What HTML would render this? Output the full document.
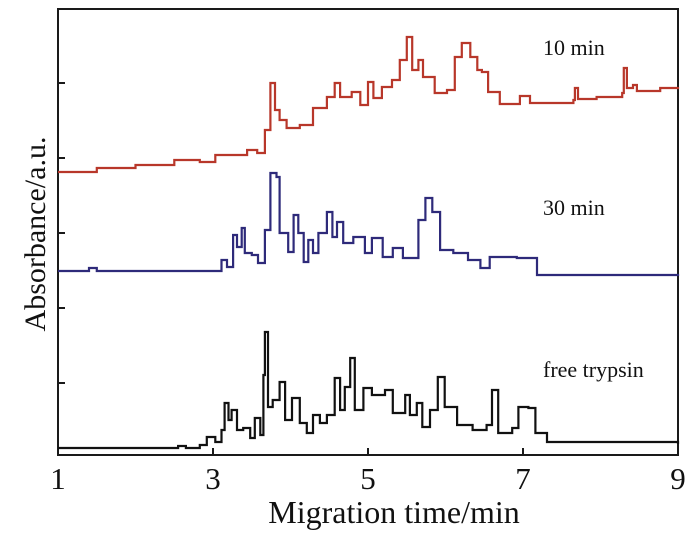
<!DOCTYPE html>
<html><head><meta charset="utf-8"><style>
html,body{margin:0;padding:0;background:#fff;}
svg{display:block;font-family:"Liberation Serif",serif;}
</style></head>
<body>
<svg id="chart" width="700" height="540" viewBox="0 0 700 540">
<rect x="58" y="9" width="620" height="446" fill="none" stroke="#1a1a1a" stroke-width="2"/>
<g id="xticks"></g>
<g id="yticks"></g>
<g id="series"></g>
<text x="394" y="523" font-size="32" text-anchor="middle" fill="#111">Migration time/min</text>
<text transform="translate(45,234) rotate(-90)" font-size="30" text-anchor="middle" fill="#111">Absorbance/a.u.</text>
<text x="543" y="55" font-size="22" fill="#111">10 min</text>
<text x="543" y="215" font-size="22" fill="#111">30 min</text>
<text x="543" y="377" font-size="22" fill="#111">free trypsin</text>
</svg>
<script>
const xTicks = [1, 3, 5, 7, 9];
const yTicks = [72, 147, 222, 297, 372];
const redT = [1.0,1.5,2.0,2.5,2.83,3.03,3.44,3.57,3.67,3.74,3.80,3.86,3.95,4.12,4.29,4.47,4.57,4.64,4.79,4.90,5.0,5.07,5.18,5.31,5.41,5.50,5.57,5.65,5.71,5.86,6.02,6.12,6.21,6.32,6.41,6.47,6.55,6.70,6.96,7.09,7.65,7.67,7.71,7.95,8.28,8.30,8.34,8.42,8.47,8.77,9.0];
const redV = [283,287,290,295,293,300,305,302,325,372,345,335,327,330,347,358,372,358,363,350,373,357,368,375,395,418,385,395,378,362,365,398,412,398,385,383,363,351,359,352,355,367,356,358,362,387,367,370,364,367,368];
const blueT = [1.0,1.4,1.5,2.83,3.06,3.11,3.18,3.26,3.31,3.37,3.41,3.50,3.58,3.67,3.74,3.82,3.86,3.97,4.04,4.10,4.17,4.23,4.29,4.36,4.47,4.54,4.60,4.68,4.81,4.96,5.05,5.19,5.32,5.45,5.57,5.65,5.74,5.83,5.93,6.10,6.28,6.29,6.45,6.57,6.74,6.92,7.18,9.0];
const blueV = [184,187,184,184,184,195,188,220,208,227,202,200,192,225,282,278,222,203,240,222,193,215,202,222,243,218,233,212,218,202,217,198,207,197,197,235,257,243,205,202,202,195,187,198,198,197,180,179];
const blackT = [1.0,2.55,2.65,2.83,2.92,3.03,3.11,3.15,3.20,3.24,3.31,3.39,3.48,3.54,3.61,3.65,3.67,3.71,3.77,3.86,3.93,4.02,4.12,4.21,4.29,4.38,4.47,4.57,4.64,4.70,4.77,4.83,4.94,5.05,5.22,5.32,5.48,5.54,5.63,5.70,5.80,5.90,5.99,6.15,6.35,6.53,6.60,6.68,6.86,6.94,7.07,7.16,7.31,9.0];
const blackV = [7,9,7,10,18,13,25,52,35,45,25,27,17,37,20,80,123,48,55,73,35,57,32,22,40,32,40,77,45,68,97,45,67,60,65,42,60,40,52,28,45,78,48,30,25,30,65,22,27,48,47,22,13,11];

const X0 = 58, X1 = 678, Y0 = 455, Y1 = 9;
const xScale = t => X0 + (t - 1) / 8 * (X1 - X0);
const yScale = v => Y0 - v / 446 * (Y0 - Y1);
const NS = 'http://www.w3.org/2000/svg';

const xg = document.getElementById('xticks');
xTicks.forEach(t => {
  const l = document.createElementNS(NS, 'line');
  l.setAttribute('x1', xScale(t)); l.setAttribute('x2', xScale(t));
  l.setAttribute('y1', Y0); l.setAttribute('y2', Y0 - 7);
  l.setAttribute('stroke', '#1a1a1a'); l.setAttribute('stroke-width', '2');
  
  
  xg.appendChild(l);
  const tx = document.createElementNS(NS, 'text');
  tx.setAttribute('x', xScale(t)); tx.setAttribute('y', 489);
  tx.setAttribute('font-size', '31'); tx.setAttribute('text-anchor', 'middle'); tx.setAttribute('fill', '#111');
  tx.textContent = t;
  
  
  xg.appendChild(tx);
});
const yg = document.getElementById('yticks');
yTicks.forEach(v => {
  const l = document.createElementNS(NS, 'line');
  l.setAttribute('x1', X0); l.setAttribute('x2', X0 + 7);
  l.setAttribute('y1', yScale(v)); l.setAttribute('y2', yScale(v));
  l.setAttribute('stroke', '#1a1a1a'); l.setAttribute('stroke-width', '2');
  
  
  yg.appendChild(l);
});
function stepPath(ts, vs) {
  let d = 'M' + xScale(ts[0]).toFixed(1) + ',' + yScale(vs[0]).toFixed(1);
  for (let i = 1; i < ts.length; i++) {
    const x = xScale(ts[i]).toFixed(1);
    d += 'H' + x + 'V' + yScale(vs[i]).toFixed(1);
  }
  return d;
}
const sg = document.getElementById('series');
[[redT, redV, '#b8372a', 'series-10-min'], [blueT, blueV, '#2e2a7a', 'series-30-min'], [blackT, blackV, '#111111', 'series-free-trypsin']].forEach(s => {
  const p = document.createElementNS(NS, 'path');
  p.setAttribute('d', stepPath(s[0], s[1]));
  p.setAttribute('fill', 'none'); p.setAttribute('stroke', s[2]); p.setAttribute('stroke-width', '2.2');
  
  
  sg.appendChild(p);
});
</script>
</body></html>
